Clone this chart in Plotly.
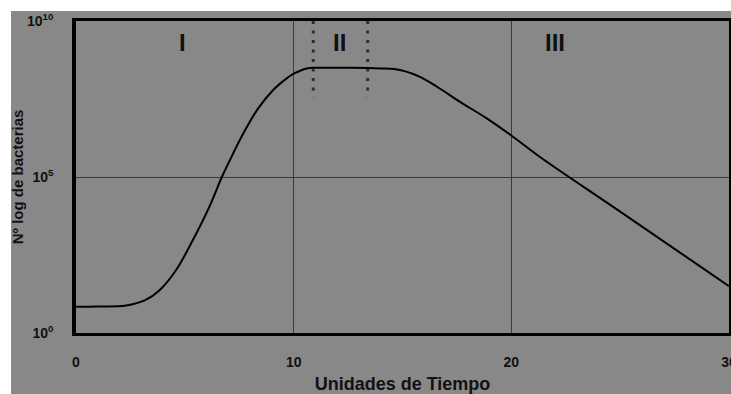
import plotly.graph_objects as go

# Growth curve: time units and log10(bacteria)
time_units = [0, 1, 2.3, 3.2, 3.85, 4.6, 5.37, 6.13, 6.7, 7.0, 7.69, 8.37, 9.06, 9.68, 10.0,
              10.6, 11.0, 12.5, 13.96, 14.88, 15.8, 16.57, 17.64, 18.87, 20.0, 21.3, 25, 30]
log_bacteria = [0.84, 0.85, 0.88, 1.06, 1.38, 2.02, 2.98, 4.05, 5.0, 5.44, 6.40, 7.2, 7.79, 8.16, 8.31,
                8.48, 8.5, 8.5, 8.48, 8.43, 8.21, 7.9, 7.41, 6.88, 6.33, 5.65, 3.89, 1.5]
bacteria = [10 ** v for v in log_bacteria]

# Phase II boundaries (dotted) and how far down they reach (log10)
phase_bounds = [10.9, 13.4]
bound_top_log = 10
bound_bottom_log = 7.56

# Phase labels
phase_labels = ["I", "II", "III"]
phase_label_x = [4.9, 12.1, 22.0]
phase_label_log = 9.3

x_ticks = [0, 10, 20, 30]
y_tick_vals = [1, 1e5, 1e10]
y_tick_text = ["10<sup>0</sup>", "10<sup>5</sup>", "10<sup>10</sup>"]

GRAY = "#888888"
FONT = "Liberation Sans"

fig = go.Figure()

for b in phase_bounds:
    fig.add_trace(go.Scatter(
        x=[b, b], y=[10 ** bound_top_log, 10 ** bound_bottom_log],
        mode="lines", line=dict(color="#303030", width=3, dash="3px,6.5px"),
        hoverinfo="skip", showlegend=False))

fig.add_trace(go.Scatter(
    x=time_units, y=bacteria, mode="lines",
    line=dict(color="black", width=2, shape="spline", smoothing=1.0),
    showlegend=False))

for lab, lx in zip(phase_labels, phase_label_x):
    fig.add_annotation(x=lx, y=phase_label_log, yref="y", xref="x", text=lab,
                       showarrow=False,
                       font=dict(family=FONT, size=24, color="#111111", weight="bold"))

fig.update_xaxes(
    range=[0, 30], tickvals=x_ticks, ticktext=[str(v) for v in x_ticks],
    showgrid=True, gridcolor="#3a3a3a", gridwidth=1, zeroline=False,
    showline=True, linecolor="black", linewidth=3, mirror=True,
    ticks="", ticklabelstandoff=14, ticklabeloverflow="allow", automargin=False,
    tickfont=dict(family=FONT, size=14, color="#111111", weight="bold"),
    title=dict(text="Unidades de Tiempo", standoff=21,
               font=dict(family=FONT, size=18, color="#111111", weight="bold")))

fig.update_yaxes(
    type="log", range=[0, 10], tickvals=y_tick_vals, ticktext=y_tick_text,
    showgrid=True, gridcolor="#3a3a3a", gridwidth=1, zeroline=False,
    showline=True, linecolor="black", linewidth=3.5, mirror=True,
    ticks="", ticklabelstandoff=16, automargin=False,
    tickfont=dict(family=FONT, size=14, color="#111111", weight="bold"),
    title=dict(text="Nº log de bacterias", standoff=1,
               font=dict(family=FONT, size=15, color="#111111", weight="bold")))

# white border strips around the gray picture area (top and left)
fig.add_shape(type="rect", xref="paper", yref="paper", x0=-0.3, x1=1.1, y0=1.032, y1=1.2,
              fillcolor="white", line=dict(width=0), layer="below")
fig.add_shape(type="rect", xref="paper", yref="paper", x0=-0.3, x1=-0.0995, y0=-0.3, y1=1.2,
              fillcolor="white", line=dict(width=0), layer="below")

fig.update_layout(
    width=731, height=394,
    margin=dict(l=76, r=2, t=21, b=61),
    paper_bgcolor=GRAY, plot_bgcolor=GRAY,
    showlegend=False,
)

fig.write_html("out.html")
